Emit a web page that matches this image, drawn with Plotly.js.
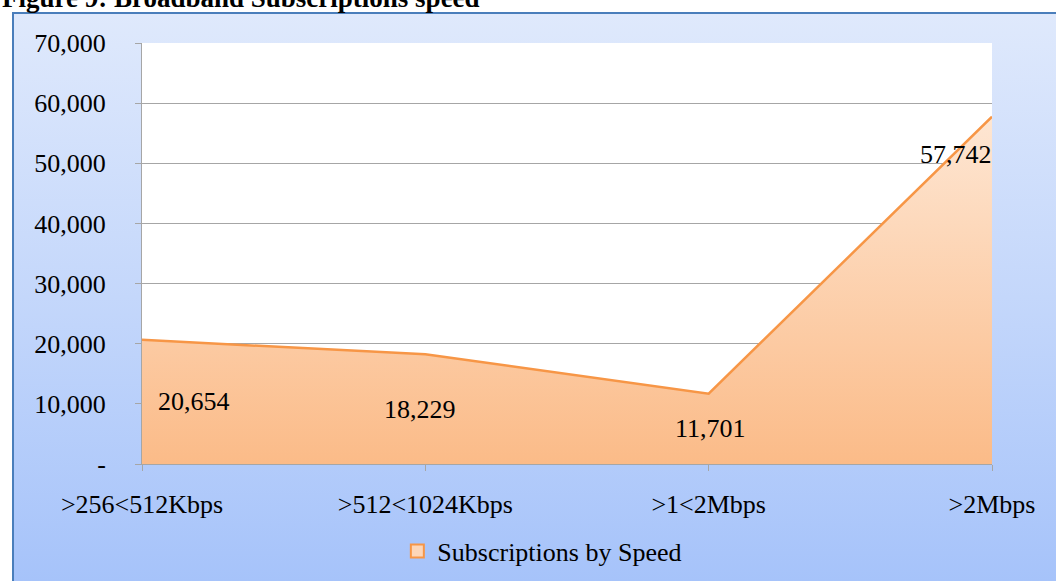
<!DOCTYPE html>
<html>
<head>
<meta charset="utf-8">
<script src="https://cdn.plot.ly/plotly-3.0.1.min.js"></script>
<style>
  html, body { margin: 0; padding: 0; background: #ffffff; }
  #wrap { position: relative; width: 1056px; height: 581px; overflow: hidden; background: #ffffff; }
  #frame { position: absolute; left: 12px; top: 12px; width: 1044px; height: 569px;
           box-sizing: border-box; border-left: 2px solid #4a7ebb; border-top: 2px solid #4a7ebb;
           background: linear-gradient(to bottom, #dfe9fc 0%, #c4d7fb 50%, #a6c3fa 100%); }
  #chart { position: absolute; left: 0; top: 0; width: 1056px; height: 581px; }
</style>
</head>
<body>
<div id="wrap">
  <div id="frame"></div>
  <div id="chart"></div>
</div>
<script>
const categories = [">256<512Kbps", ">512<1024Kbps", ">1<2Mbps", ">2Mbps"];
const subscriptions = [20654, 18229, 11701, 57742];
const seriesName = "Subscriptions by Speed";
const yTickVals = [0, 10000, 20000, 30000, 40000, 50000, 60000, 70000];
const yTickText = ["-", "10,000", "20,000", "30,000", "40,000", "50,000", "60,000", "70,000"];
const titleText = "Figure 9: Broadband Subscriptions speed";

const serif = "Liberation Serif, Times New Roman, serif";
const fmt = v => v.toLocaleString("en-US");

const areaTrace = {
  type: "scatter",
  mode: "lines",
  x: categories,
  y: subscriptions,
  name: seriesName,
  fill: "tozeroy",
  fillcolor: "#fcd0ab",
  fillgradient: {
    type: "vertical",
    start: 0,
    stop: 60000,
    colorscale: [[0, "#fbbb88"], [1, "#fee8d6"]]
  },
  line: { color: "#f79646", width: 2.5 },
  showlegend: false,
  hoverinfo: "x+y"
};

// legend-only entry to show the square swatch used by the original legend
const legendTrace = {
  type: "scatter",
  mode: "markers",
  x: [null],
  y: [null],
  name: seriesName,
  marker: { symbol: "square", size: 13, color: "#fdd6b8", line: { color: "#f79646", width: 2 } },
  showlegend: true,
  hoverinfo: "skip"
};

// label placement styles (not data)
const labelStyle = [
  { xanchor: "left", xshift: 14, mode: "half" },
  { xanchor: "center", xshift: -5, mode: "half" },
  { xanchor: "center", xshift: 2, mode: "half" },
  { xanchor: "right", xshift: 2, mode: "top" }
];

const annotations = subscriptions.map((v, i) => {
  const s = labelStyle[i];
  return {
    x: i, xref: "x",
    y: s.mode === "half" ? v / 2 : v,
    yref: "y",
    text: fmt(v),
    showarrow: false,
    xanchor: s.xanchor,
    yanchor: s.mode === "half" ? "middle" : "top",
    yshift: s.mode === "half" ? 0 : -21,
    xshift: s.xshift,
    font: { family: serif, size: 26, color: "#000000" }
  };
});

annotations.push({
  text: "<b>" + titleText + "</b>",
  xref: "paper", x: -142 / 850, xanchor: "left",
  yref: "paper", y: 1.107, yanchor: "middle",
  showarrow: false,
  font: { family: serif, size: 27, color: "#000000" }
});

const layout = {
  width: 1056,
  height: 581,
  paper_bgcolor: "rgba(0,0,0,0)",
  plot_bgcolor: "#ffffff",
  margin: { l: 142, r: 64, t: 43, b: 117, pad: 0, autoexpand: false },
  xaxis: {
    type: "category",
    range: [0, 3],
    showgrid: false,
    showline: true,
    linecolor: "#a6a6a6",
    linewidth: 1,
    ticks: "outside",
    ticklen: 6,
    tickcolor: "#a6a6a6",
    tickfont: { family: serif, size: 26, color: "#000000" },
    ticklabelstandoff: 11,
    zeroline: false,
    automargin: false,
    fixedrange: true
  },
  yaxis: {
    range: [0, 70000],
    tickvals: yTickVals,
    ticktext: yTickText,
    showgrid: true,
    gridcolor: "#a6a6a6",
    gridwidth: 1,
    showline: true,
    linecolor: "#a6a6a6",
    linewidth: 1,
    ticks: "outside",
    ticklen: 6,
    tickcolor: "#a6a6a6",
    tickfont: { family: serif, size: 26, color: "#000000" },
    ticklabelstandoff: 24,
    zeroline: false,
    automargin: false,
    fixedrange: true
  },
  legend: {
    orientation: "h",
    x: 0.471, xanchor: "center",
    y: -0.207, yanchor: "middle",
    font: { family: serif, size: 26, color: "#000000" },
    bgcolor: "rgba(0,0,0,0)",
    itemwidth: 30
  },
  annotations: annotations,
  showlegend: true
};

Plotly.newPlot("chart", [areaTrace, legendTrace], layout, { displayModeBar: false, staticPlot: true });
</script>
</body>
</html>
